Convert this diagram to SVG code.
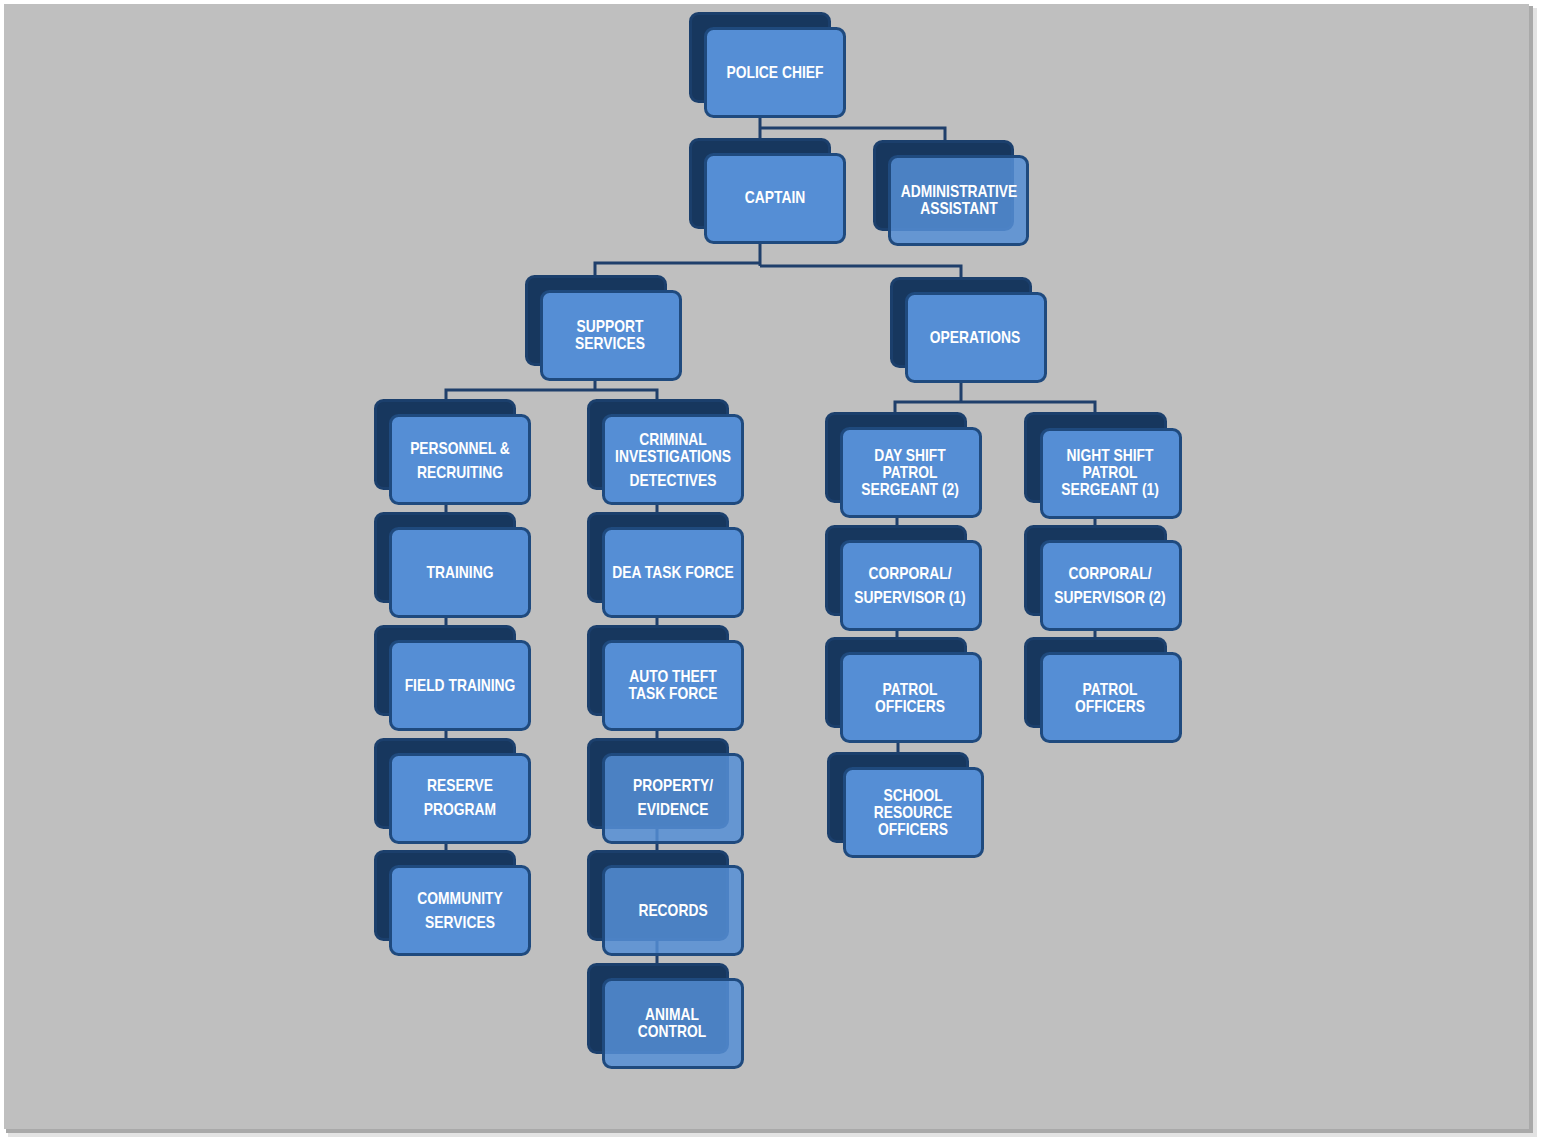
<svg xmlns="http://www.w3.org/2000/svg" width="1542" height="1142" viewBox="0 0 1542 1142">
<style>
.back{fill:#17375e;stroke:#1b3f6c;stroke-width:3}
.front{fill:#558ed5;stroke:#1f4a7e;stroke-width:3}
.front.tr{fill-opacity:0.85}
.lbl{font-family:"Liberation Sans",Arial,sans-serif;font-weight:bold;font-size:16.5px;fill:#ffffff;text-anchor:middle}
.conn{fill:none;stroke:#1f3f6b;stroke-width:3}
</style>
<rect x="0" y="0" width="1542" height="1142" fill="#ffffff"/>
<rect x="8" y="8" width="1529" height="1129" fill="#e3e3e3"/>
<rect x="6" y="6" width="1527" height="1127" fill="#a9a9a9"/>
<rect x="4" y="4" width="1525" height="1125" fill="#bfbfbf"/>
<g id="connectors">
<path class="conn" d="M760,118 V138 M760,128 H945 V140"/>
<path class="conn" d="M760,243 V266 M595,276 V263 H760 M760,266 H961 V278"/>
<path class="conn" d="M595,381 V390 M446,400 V390 H657 V400"/>
<path class="conn" d="M446,490 V512 M446,603 V625 M446,716 V738 M446,829 V850"/>
<path class="conn" d="M657,490 V512 M657,603 V625 M657,716 V738 M657,829 V850 M657,941 V963"/>
<path class="conn" d="M961,383 V402 M895,412 V402 H1095 V413"/>
<path class="conn" d="M897,504 V526 M897,616 V638 M898,728 V752"/>
<path class="conn" d="M1095,504 V526 M1095,616 V638"/>
</g>
<g id="police-chief">
<rect class="back" x="690.5" y="13.5" width="139" height="88" rx="8"/>
<rect class="front" x="705.5" y="28.5" width="139" height="88" rx="8"/>
<text class="lbl" transform="translate(775,78) scale(0.84,1)">POLICE CHIEF</text>
</g>
<g id="captain">
<rect class="back" x="690.5" y="139.5" width="139" height="88" rx="8"/>
<rect class="front" x="705.5" y="154.5" width="139" height="88" rx="8"/>
<text class="lbl" transform="translate(775,203) scale(0.84,1)">CAPTAIN</text>
</g>
<g id="administrative-assistant">
<rect class="back" x="874.5" y="141.5" width="138" height="88" rx="8"/>
<rect class="front tr" x="889.5" y="156.5" width="138" height="88" rx="8"/>
<text class="lbl" transform="translate(959,197) scale(0.84,1)">ADMINISTRATIVE</text>
<text class="lbl" transform="translate(959,214) scale(0.84,1)">ASSISTANT</text>
</g>
<g id="support-services">
<rect class="back" x="526.5" y="276.5" width="139" height="88" rx="8"/>
<rect class="front" x="541.5" y="291.5" width="139" height="88" rx="8"/>
<text class="lbl" transform="translate(610,332) scale(0.84,1)">SUPPORT</text>
<text class="lbl" transform="translate(610,349) scale(0.84,1)">SERVICES</text>
</g>
<g id="operations">
<rect class="back" x="891.5" y="278.5" width="139" height="88" rx="8"/>
<rect class="front" x="906.5" y="293.5" width="139" height="88" rx="8"/>
<text class="lbl" transform="translate(975,343) scale(0.84,1)">OPERATIONS</text>
</g>
<g id="personnel-recruiting">
<rect class="back" x="375.5" y="400.5" width="139" height="88" rx="8"/>
<rect class="front" x="390.5" y="415.5" width="139" height="88" rx="8"/>
<text class="lbl" transform="translate(460,454) scale(0.84,1)">PERSONNEL &amp;</text>
<text class="lbl" transform="translate(460,478) scale(0.84,1)">RECRUITING</text>
</g>
<g id="training">
<rect class="back" x="375.5" y="513.5" width="139" height="88" rx="8"/>
<rect class="front" x="390.5" y="528.5" width="139" height="88" rx="8"/>
<text class="lbl" transform="translate(460,578) scale(0.84,1)">TRAINING</text>
</g>
<g id="field-training">
<rect class="back" x="375.5" y="626.5" width="139" height="88" rx="8"/>
<rect class="front" x="390.5" y="641.5" width="139" height="88" rx="8"/>
<text class="lbl" transform="translate(460,691) scale(0.84,1)">FIELD TRAINING</text>
</g>
<g id="reserve-program">
<rect class="back" x="375.5" y="739.5" width="139" height="88" rx="8"/>
<rect class="front" x="390.5" y="754.5" width="139" height="88" rx="8"/>
<text class="lbl" transform="translate(460,791) scale(0.84,1)">RESERVE</text>
<text class="lbl" transform="translate(460,815) scale(0.84,1)">PROGRAM</text>
</g>
<g id="community-services">
<rect class="back" x="375.5" y="851.5" width="139" height="88" rx="8"/>
<rect class="front" x="390.5" y="866.5" width="139" height="88" rx="8"/>
<text class="lbl" transform="translate(460,904) scale(0.84,1)">COMMUNITY</text>
<text class="lbl" transform="translate(460,928) scale(0.84,1)">SERVICES</text>
</g>
<g id="criminal-investigations">
<rect class="back" x="588.5" y="400.5" width="139" height="88" rx="8"/>
<rect class="front" x="603.5" y="415.5" width="139" height="88" rx="8"/>
<text class="lbl" transform="translate(673,445) scale(0.84,1)">CRIMINAL</text>
<text class="lbl" transform="translate(673,462) scale(0.84,1)">INVESTIGATIONS</text>
<text class="lbl" transform="translate(673,486) scale(0.84,1)">DETECTIVES</text>
</g>
<g id="dea-task-force">
<rect class="back" x="588.5" y="513.5" width="139" height="88" rx="8"/>
<rect class="front" x="603.5" y="528.5" width="139" height="88" rx="8"/>
<text class="lbl" transform="translate(673,578) scale(0.84,1)">DEA TASK FORCE</text>
</g>
<g id="auto-theft-task-force">
<rect class="back" x="588.5" y="626.5" width="139" height="88" rx="8"/>
<rect class="front" x="603.5" y="641.5" width="139" height="88" rx="8"/>
<text class="lbl" transform="translate(673,682) scale(0.84,1)">AUTO THEFT</text>
<text class="lbl" transform="translate(673,699) scale(0.84,1)">TASK FORCE</text>
</g>
<g id="property-evidence">
<rect class="back" x="588.5" y="739.5" width="139" height="88" rx="8"/>
<rect class="front tr" x="603.5" y="754.5" width="139" height="88" rx="8"/>
<text class="lbl" transform="translate(673,791) scale(0.84,1)">PROPERTY/</text>
<text class="lbl" transform="translate(673,815) scale(0.84,1)">EVIDENCE</text>
</g>
<g id="records">
<rect class="back" x="588.5" y="851.5" width="139" height="88" rx="8"/>
<rect class="front tr" x="603.5" y="866.5" width="139" height="88" rx="8"/>
<text class="lbl" transform="translate(673,916) scale(0.84,1)">RECORDS</text>
</g>
<g id="animal-control">
<rect class="back" x="588.5" y="964.5" width="139" height="88" rx="8"/>
<rect class="front tr" x="603.5" y="979.5" width="139" height="88" rx="8"/>
<text class="lbl" transform="translate(672,1020) scale(0.84,1)">ANIMAL</text>
<text class="lbl" transform="translate(672,1037) scale(0.84,1)">CONTROL</text>
</g>
<g id="day-shift-patrol-sergeant">
<rect class="back" x="826.5" y="413.5" width="139" height="88" rx="8"/>
<rect class="front" x="841.5" y="428.5" width="139" height="88" rx="8"/>
<text class="lbl" transform="translate(910,461) scale(0.84,1)">DAY SHIFT</text>
<text class="lbl" transform="translate(910,478) scale(0.84,1)">PATROL</text>
<text class="lbl" transform="translate(910,495) scale(0.84,1)">SERGEANT (2)</text>
</g>
<g id="corporal-supervisor-1">
<rect class="back" x="826.5" y="526.5" width="139" height="88" rx="8"/>
<rect class="front" x="841.5" y="541.5" width="139" height="88" rx="8"/>
<text class="lbl" transform="translate(910,579) scale(0.84,1)">CORPORAL/</text>
<text class="lbl" transform="translate(910,603) scale(0.84,1)">SUPERVISOR (1)</text>
</g>
<g id="patrol-officers-day">
<rect class="back" x="826.5" y="638.5" width="139" height="88" rx="8"/>
<rect class="front" x="841.5" y="653.5" width="139" height="88" rx="8"/>
<text class="lbl" transform="translate(910,695) scale(0.84,1)">PATROL</text>
<text class="lbl" transform="translate(910,712) scale(0.84,1)">OFFICERS</text>
</g>
<g id="school-resource-officers">
<rect class="back" x="828.5" y="753.5" width="139" height="88" rx="8"/>
<rect class="front" x="844.5" y="768.5" width="138" height="88" rx="8"/>
<text class="lbl" transform="translate(913,801) scale(0.84,1)">SCHOOL</text>
<text class="lbl" transform="translate(913,818) scale(0.84,1)">RESOURCE</text>
<text class="lbl" transform="translate(913,835) scale(0.84,1)">OFFICERS</text>
</g>
<g id="night-shift-patrol-sergeant">
<rect class="back" x="1025.5" y="413.5" width="140" height="88" rx="8"/>
<rect class="front" x="1041.5" y="429.5" width="139" height="88" rx="8"/>
<text class="lbl" transform="translate(1110,461) scale(0.84,1)">NIGHT SHIFT</text>
<text class="lbl" transform="translate(1110,478) scale(0.84,1)">PATROL</text>
<text class="lbl" transform="translate(1110,495) scale(0.84,1)">SERGEANT (1)</text>
</g>
<g id="corporal-supervisor-2">
<rect class="back" x="1025.5" y="526.5" width="140" height="88" rx="8"/>
<rect class="front" x="1041.5" y="541.5" width="139" height="88" rx="8"/>
<text class="lbl" transform="translate(1110,579) scale(0.84,1)">CORPORAL/</text>
<text class="lbl" transform="translate(1110,603) scale(0.84,1)">SUPERVISOR (2)</text>
</g>
<g id="patrol-officers-night">
<rect class="back" x="1025.5" y="638.5" width="140" height="88" rx="8"/>
<rect class="front" x="1041.5" y="653.5" width="139" height="88" rx="8"/>
<text class="lbl" transform="translate(1110,695) scale(0.84,1)">PATROL</text>
<text class="lbl" transform="translate(1110,712) scale(0.84,1)">OFFICERS</text>
</g>
</svg>
